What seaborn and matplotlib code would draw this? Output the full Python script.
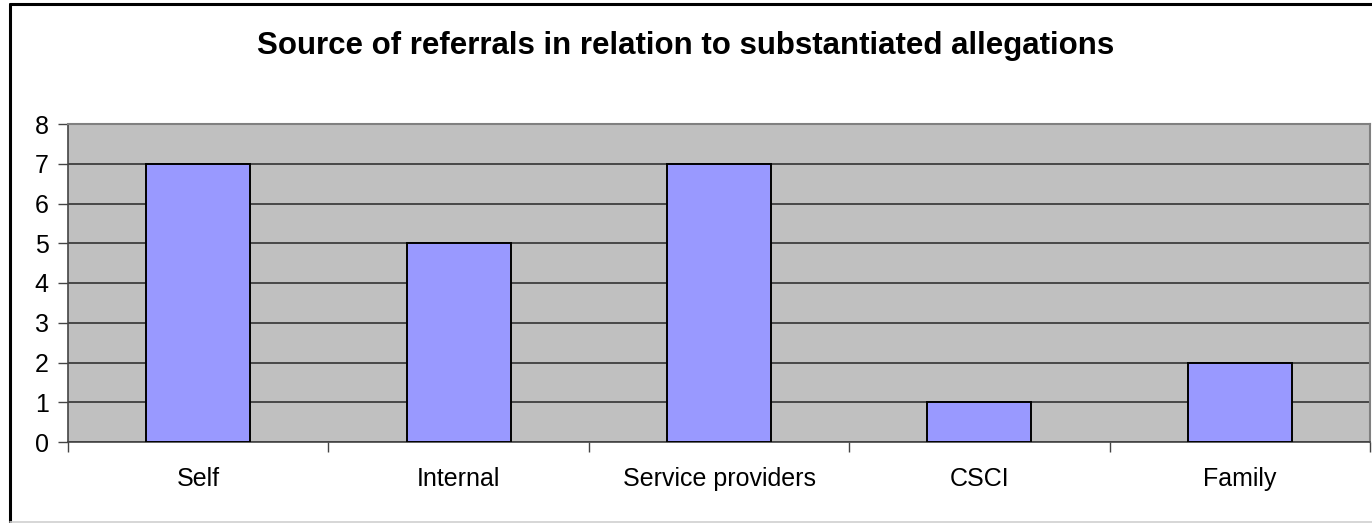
import matplotlib
matplotlib.use("Agg")
import matplotlib.pyplot as plt
import seaborn as sns
import numpy as np
from matplotlib.ticker import FixedLocator, MultipleLocator
from matplotlib.lines import Line2D

categories = ["Self", "Internal", "Service providers", "CSCI", "Family"]
values = [7, 5, 7, 1, 2]
title = "Source of referrals in relation to substantiated allegations"

sns.set_theme(style="white")
plt.rcParams['font.family'] = ['Liberation Sans', 'DejaVu Sans']

W, H = 1372, 523
fig = plt.figure(figsize=(W/100, H/100), dpi=100)
ax = fig.add_axes([68/W, 1-442/H, (1370-68)/W, (442-124)/H])
ax.set_facecolor("#C0C0C0")

sns.barplot(x=categories, y=values, color="#9999FF", width=0.4,
            edgecolor="black", linewidth=1.4, saturation=1, ax=ax, zorder=3)

ax.set_ylim(0, 8)
ax.set_xlim(-0.5, len(categories) - 0.5)
ax.yaxis.set_major_locator(MultipleLocator(1))
ax.grid(axis="y", color="#333333", linewidth=1.2, zorder=0)
ax.set_axisbelow(True)
for b in ax.patches:
    b.set_zorder(3)

ax.tick_params(axis="y", which="major", direction="out", length=7, width=1,
               color="#444444", labelsize=18, pad=7, left=True)
ax.tick_params(axis="x", which="major", length=0, labelsize=18, pad=18)
ax.xaxis.set_minor_locator(FixedLocator(np.arange(-0.5, len(categories), 1)))
ax.tick_params(axis="x", which="minor", direction="out", length=7, width=1,
               color="#444444", bottom=True)
for lab in ax.get_xticklabels() + ax.get_yticklabels():
    lab.set_color("black")

for side in ["top", "right"]:
    ax.spines[side].set_color("#808080")
    ax.spines[side].set_linewidth(1.5)
for side in ["left", "bottom"]:
    ax.spines[side].set_color("#444444")
    ax.spines[side].set_linewidth(1.2)
ax.set_xlabel("")
ax.set_ylabel("")

fig.text(0.5, 1-46/H, title, ha="center", va="center",
         fontsize=22.5, fontweight="bold", color="black")

# chart frame: black top/left, faint bottom
fig.add_artist(Line2D([10/W, 1], [1-4/H, 1-4/H], transform=fig.transFigure,
                      color="black", linewidth=2.2))
fig.add_artist(Line2D([10/W, 10/W], [0, 1-4/H], transform=fig.transFigure,
                      color="black", linewidth=2.2))
fig.add_artist(Line2D([10/W, 1], [1.5/H, 1.5/H], transform=fig.transFigure,
                      color="#D0D0D0", linewidth=1.2))

fig.savefig("out.png", dpi=100)
